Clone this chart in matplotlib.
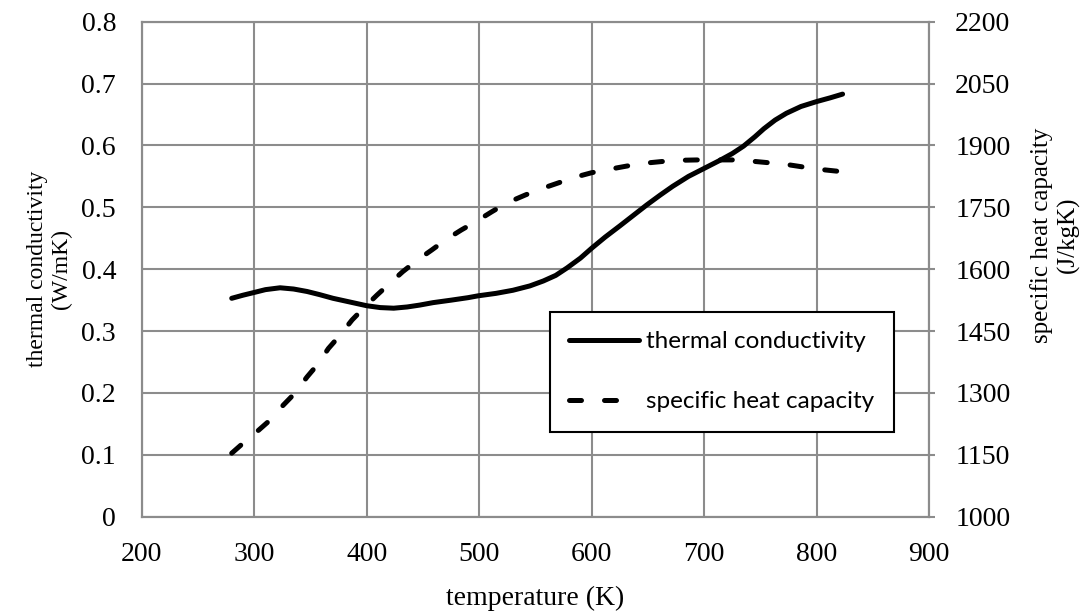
import matplotlib.pyplot as plt

# thermal conductivity (W/mK)
tc_temp = [280, 290, 299, 310, 323, 335, 347, 358, 370, 385, 400, 412, 424, 436,
           447, 459, 475, 490, 499, 515, 530, 545, 557, 568, 578, 590, 600, 612,
           625, 637, 649, 661, 672, 686, 700, 714, 725, 735, 745, 753, 763, 773,
           786, 800, 812, 823]
tc_vals = [0.353, 0.358, 0.362, 0.367, 0.370, 0.368, 0.364, 0.359, 0.353, 0.347,
           0.341, 0.338, 0.337, 0.339, 0.342, 0.346, 0.350, 0.354, 0.357, 0.361,
           0.366, 0.373, 0.381, 0.390, 0.402, 0.418, 0.434, 0.452, 0.470, 0.487,
           0.504, 0.520, 0.534, 0.550, 0.563, 0.576, 0.587, 0.599, 0.614, 0.627,
           0.641, 0.652, 0.663, 0.671, 0.677, 0.683]

# specific heat capacity (J/kgK)
cp_temp = [280, 290, 304, 314, 326, 336, 347, 356, 366, 375, 387, 397, 409, 419,
           432, 445, 458, 470, 484, 498, 511, 524, 541, 554, 569, 585, 600, 615,
           631, 647, 662, 677, 695, 711, 726, 742, 758, 773, 790, 803, 824]
cp_vals = [1154, 1178, 1210, 1234, 1271, 1299, 1339, 1368, 1408, 1436, 1477, 1505,
           1537, 1562, 1594, 1622, 1647, 1671, 1695, 1717, 1739, 1760, 1780, 1794,
           1808, 1823, 1834, 1842, 1850, 1857, 1861, 1864, 1865, 1865, 1865, 1862,
           1858, 1854, 1847, 1842, 1836]

left_ticks = [0, 0.1, 0.2, 0.3, 0.4, 0.5, 0.6, 0.7, 0.8]
right_ticks = [1000, 1150, 1300, 1450, 1600, 1750, 1900, 2050, 2200]
x_ticks = [200, 300, 400, 500, 600, 700, 800, 900]

serif = 'Liberation Serif'
grid_col = '#8c8c8c'

fig = plt.figure(figsize=(10.91, 6.12), dpi=100)
ax = fig.add_axes([0.1299, 0.1557, 0.7218, 0.8088])
ax2 = ax.twinx()

l1, = ax.plot(tc_temp, tc_vals, color='black', lw=3.6, solid_capstyle='round',
              solid_joinstyle='round', label='thermal conductivity')
l2, = ax2.plot(cp_temp, cp_vals, color='black', lw=3.6, dashes=(2.4, 4.6),
               dash_capstyle='round', dash_joinstyle='round',
               label='specific heat capacity')

ax.set_xlim(200, 900)
ax.set_ylim(0, 0.8)
ax2.set_ylim(1000, 2200)
ax.set_xticks(x_ticks)
ax.set_yticks(left_ticks)
ax.set_yticklabels(['0' if v == 0 else f'{v:.1f}' for v in left_ticks])
ax2.set_yticks(right_ticks)

ax.grid(True, color=grid_col, lw=1.5)
ax.set_axisbelow(True)
for a in (ax, ax2):
    for s in a.spines.values():
        s.set_color(grid_col)
        s.set_linewidth(1.5)

ax.tick_params(axis='y', length=0, labelsize=20, pad=18.5)
ax.tick_params(axis='x', length=0, labelsize=20, pad=18)
ax2.tick_params(axis='y', length=4.3, width=1.5, color=grid_col, labelsize=20,
                pad=14.4)
for lab in ax.get_xticklabels() + ax.get_yticklabels() + ax2.get_yticklabels():
    lab.set_fontfamily(serif)

ax.set_xlabel('temperature (K)', fontsize=20, fontfamily=serif)
ax.set_ylabel('thermal conductivity\n(W/mK)', fontsize=17, fontfamily=serif,
              linespacing=1.15)
ax2.set_ylabel('specific heat capacity\n(J/kgK)', fontsize=18, fontfamily=serif,
               linespacing=1.16)
ax.xaxis.set_label_coords(0.5, -0.140)
ax.yaxis.set_label_coords(-0.0888, 0.5)
ax2.yaxis.set_label_coords(1.1286, 0.569)

leg = ax.legend(handles=[l1, l2], loc='upper left',
                bbox_to_anchor=(0.5185, 0.414), borderaxespad=0,
                frameon=True, fancybox=False, edgecolor='black', framealpha=1,
                handlelength=2.88, handletextpad=0.27, labelspacing=1.6,
                borderpad=0.8, prop={'family': 'Lato', 'size': 17.5})
leg.get_frame().set_linewidth(1.5)
leg.remove()
ax2.add_artist(leg)

fig.savefig('out.png', dpi=100)
